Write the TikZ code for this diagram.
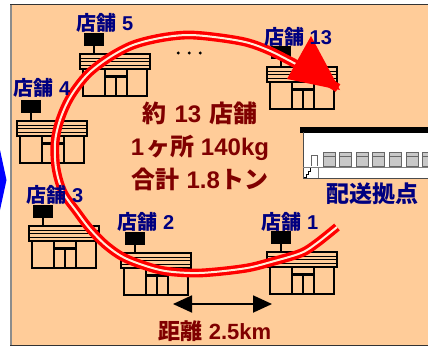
\documentclass[tikz,border=0pt]{standalone}
\usepackage{fontspec}
\setmainfont{Liberation Sans}
\newfontfamily\jp{Noto Sans CJK JP}
\newcommand\jt[1]{{\jp #1}}
\usetikzlibrary{arrows.meta}

\definecolor{panelbg}{HTML}{FFCC99}
\definecolor{labelblue}{HTML}{000080}
\definecolor{textred}{HTML}{800000}
\definecolor{winfill}{HTML}{C8C8C8}

\tikzset{
  % convenience store icon, origin at the top-left corner of the roof
  store/.pic={
    \fill[black] (4,-21) rectangle (24,-8);
    \draw[line width=1.4] (14,-8) -- (14,0);
    \draw[line width=1] (0,4) -- (70,4) (0,7.5) -- (70,7.5) (0,11) -- (70,11);
    \draw[line width=2.4] (0,0) rectangle (70,15);
    \draw[line width=2.2] (3,15) rectangle (67,42);
    \draw[line width=2.2] (25,15) -- (25,42) (47,15) -- (47,42);
    \draw[line width=2.6] (25,22.5) -- (47,22.5);
    \draw[line width=1.5] (36,22.5) -- (36,42);
  },
  storelabel/.style={inner sep=0pt, text=labelblue, font=\fontsize{20}{22}\selectfont\bfseries},
  bigtext/.style={inner sep=0pt, text=textred, font=\fontsize{24}{33}\selectfont\bfseries},
  route/.style={draw=red, line width=3.4pt, double=panelbg!40!white, double distance=2pt},
  window/.style={fill=winfill, draw=black!60, line width=0.8pt}
}

\begin{document}
\begin{tikzpicture}[x=1pt, y=-1pt]
\useasboundingbox (0,0) rectangle (428,349);

% tip of the blue chevron on the left
\fill[blue] (0,150) .. controls (3,165) .. (6.5,180) .. controls (3,195) .. (0,210) -- cycle;

% panel
\fill[panelbg] (11,5) rectangle (440,345);
\draw[black!45, line width=1.6] (10.8,4.5) -- (10.8,345.5);
\draw[black!80, line width=1.6] (10,4.6) -- (440,4.6);
\draw[black!80, line width=1.6] (10,345.4) -- (440,345.4);

% stores
\pic at (80,54) {store};
\pic at (17,121) {store};
\pic at (267,67) {store};
\pic at (29,226) {store};
\pic at (121,253) {store};
\pic at (267,252) {store};

% dots between store 5 and store 13
\fill (178.3,53) circle (1.6) (189.3,53) circle (1.6) (200.3,53) circle (1.6);

% delivery route
\draw[route] plot[smooth, tension=0.55] coordinates {
  (337,227) (317,243) (301,253) (271,262) (247,268) (214,272) (190,273)
  (160,270) (127,259) (107,246) (90,229) (77,212) (63,192) (56,168)
  (55,143) (59,123) (67,103) (77,87) (90,72) (110,57) (133,45) (160,38)
  (187,35) (214,37) (245,42) (268,50) (292,62) (316,75) (338,88)};
\fill[red] (311,36) -- (287,79) -- (340,90) -- cycle;

% distribution centre
\fill[white] (303,132) rectangle (440,178);
\fill[black] (300,127) rectangle (440,132.5);
\draw[black!70, line width=1] (303,132) -- (303,178) -- (440,178);
\draw[black!50, line width=0.8] (303,167) -- (440,167);
\draw[black!50, line width=0.8] (318,167) -- (318,178);
\draw[black!60, line width=0.8] (311,166) -- (311,155) -- (317,155) -- (317,166);
\draw[black, line width=0.7] (304,177) -- (306,177) -- (306,174) -- (308,174) -- (308,171) -- (310,171) -- (310,168);
\foreach \k in {0,...,6} {
  \draw[window] ({323+16.6*\k},152) rectangle ({335+16.6*\k},166);
  \draw[black!60, line width=0.8] ({323+16.6*\k},156) -- ({335+16.6*\k},156);
}

% labels
\node[storelabel] (l5) at (105,23) {\jt{店舗} 5};
\node[storelabel] (l4) at (42,88) {\jt{店舗} 4};
\node[storelabel] (l13) at (298,37) {\jt{店舗} 13};
\node[storelabel] (l3) at (55,195) {\jt{店舗} 3};
\node[storelabel] (l2) at (146,222) {\jt{店舗} 2};
\node[storelabel] (l1) at (290,222) {\jt{店舗} 1};
\node[storelabel, font=\fontsize{23}{25}\selectfont\bfseries] (depot) at (372,194) {\jt{配送拠点}};

\node[bigtext, align=center] (summary) at (200,146)
  {\jt{約}\hspace{8pt}13\hspace{8pt}\jt{店舗}\\1\hspace{2pt}\jt{ヶ所} 140kg\\\jt{合計} 1.8\jt{トン}};

% distance marker
\coordinate (dl) at (173,304);
\coordinate (dr) at (272,304);
\draw[line width=1.8pt, {Triangle[length=19pt,width=17pt]}-{Triangle[length=19pt,width=17pt]}] (dl) -- (dr);
\node[bigtext, font=\fontsize{22}{24}\selectfont\bfseries] (dist) at (215,331) {\jt{距離} 2.5km};
\end{tikzpicture}
\end{document}
